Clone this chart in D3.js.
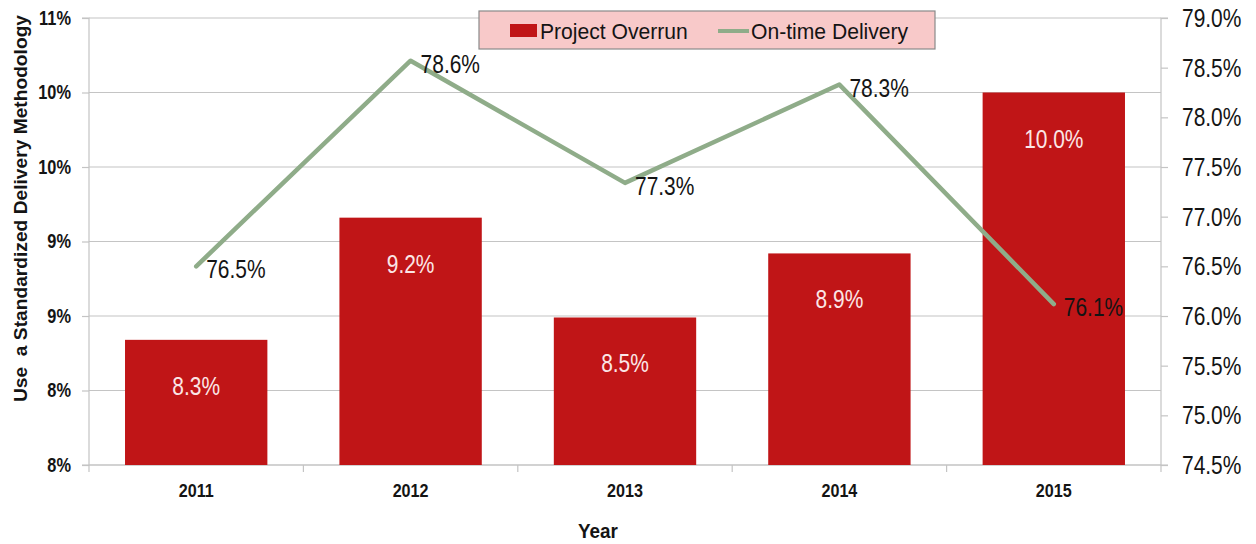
<!DOCTYPE html>
<html>
<head>
<meta charset="utf-8">
<script src="https://cdnjs.cloudflare.com/ajax/libs/d3/7.8.5/d3.min.js"></script>
<style>
  html, body { margin: 0; padding: 0; background: #fff; }
  svg { display: block; }
  text { font-family: "Liberation Sans", Arial, sans-serif; }
</style>
</head>
<body>
<svg id="chart" width="1256" height="544"></svg>
<script>
// Yearly results
const years = ["2011", "2012", "2013", "2014", "2015"];
const projectOverrun = [8.34, 9.16, 8.49, 8.92, 10.0];    // %
const onTimeDelivery = [76.5, 78.57, 77.34, 78.33, 76.12]; // %
const leftTicks = [7.5, 8.0, 8.5, 9.0, 9.5, 10.0, 10.5];
const rightTicks = [74.5, 75.0, 75.5, 76.0, 76.5, 77.0, 77.5, 78.0, 78.5, 79.0];

const svg = d3.select("#chart");
const plotL = 89, plotR = 1161, plotT = 18, plotB = 465;

const x = d3.scaleBand().domain(years).range([plotL, plotR]).paddingInner(0.336).paddingOuter(0.168);
const yL = d3.scaleLinear().domain([7.5, 10.5]).range([plotB, plotT]);
const yR = d3.scaleLinear().domain([74.5, 79.0]).range([plotB, plotT]);

const gridColor = "#c4c4c4";
const ink = "#141414";

// Narrow the glyphs horizontally while keeping the anchor point in place
function condense(sel, sx) {
  sel.each(function () {
    const t = d3.select(this);
    const tx = +t.attr("x") || 0, ty = +t.attr("y") || 0;
    t.attr("x", 0).attr("y", 0).attr("transform", `translate(${tx},${ty}) scale(${sx},1)`);
  });
}

// horizontal gridlines
svg.append("g").selectAll("line").data(leftTicks).join("line")
  .attr("x1", plotL).attr("x2", plotR)
  .attr("y1", d => yL(d)).attr("y2", d => yL(d))
  .attr("stroke", gridColor).attr("stroke-width", 1.2);

// left axis
const gL = svg.append("g").attr("transform", `translate(${plotL},0)`)
  .call(d3.axisLeft(yL).tickValues(leftTicks).tickSize(7).tickPadding(11)
    .tickFormat(d => Math.round(d + 1e-9) + "%"));
gL.select(".domain").attr("stroke", gridColor).attr("stroke-width", 1.2).attr("d", `M-7,${plotT}H0V${plotB}H-7`);
gL.selectAll(".tick line").attr("stroke", gridColor).attr("stroke-width", 1.2);
gL.selectAll(".tick text").attr("font-family", null).attr("font-size", 19.5).attr("font-weight", "bold").attr("fill", ink)
  .call(condense, 0.84);

// right axis
const gR = svg.append("g").attr("transform", `translate(${plotR},0)`)
  .call(d3.axisRight(yR).tickValues(rightTicks).tickSize(7).tickPadding(14)
    .tickFormat(d => d.toFixed(1) + "%"));
gR.select(".domain").attr("stroke", gridColor).attr("stroke-width", 1.2).attr("d", `M7,${plotT}H0V${plotB}H7`);
gR.selectAll(".tick line").attr("stroke", gridColor).attr("stroke-width", 1.2);
gR.selectAll(".tick text").attr("font-family", null).attr("font-size", 26.5).attr("fill", ink)
  .call(condense, 0.79);

// bottom axis: ticks between categories
const gB = svg.append("g").attr("transform", `translate(0,${plotB})`);
gB.append("line").attr("x1", plotL).attr("x2", plotR).attr("stroke", gridColor).attr("stroke-width", 1.2);
const bounds = years.map(y => x(y) - x.step() * x.paddingInner() / 2).concat([plotR]);
bounds[0] = plotL;
gB.selectAll(".bt").data(bounds).join("line").attr("class", "bt")
  .attr("x1", d => d).attr("x2", d => d).attr("y1", 0).attr("y2", 7)
  .attr("stroke", gridColor).attr("stroke-width", 1.2);
gB.selectAll("text").data(years).join("text")
  .attr("x", d => x(d) + x.bandwidth() / 2).attr("y", 32)
  .attr("text-anchor", "middle").attr("font-size", 19).attr("font-weight", "bold").attr("fill", ink)
  .text(d => d)
  .call(condense, 0.85);

// bars
svg.append("g").selectAll("rect").data(years).join("rect")
  .attr("x", d => x(d)).attr("width", x.bandwidth())
  .attr("y", (d, i) => yL(projectOverrun[i]))
  .attr("height", (d, i) => plotB - yL(projectOverrun[i]))
  .attr("fill", "#c01517");

// bar labels
svg.append("g").selectAll("text").data(years).join("text")
  .attr("x", d => x(d) + x.bandwidth() / 2)
  .attr("y", (d, i) => yL(projectOverrun[i]) + 55)
  .attr("text-anchor", "middle").attr("font-size", 26.5).attr("fill", "#fbe6e6")
  .text((d, i) => projectOverrun[i].toFixed(1) + "%")
  .call(condense, 0.79);

// on-time delivery line
const line = d3.line().x((d, i) => x(years[i]) + x.bandwidth() / 2).y(d => yR(d));
svg.append("path").datum(onTimeDelivery)
  .attr("d", line).attr("fill", "none")
  .attr("stroke", "#8fac89").attr("stroke-width", 4.5).attr("stroke-linejoin", "round").attr("stroke-linecap", "round");

svg.append("g").selectAll("text").data(onTimeDelivery).join("text")
  .attr("x", (d, i) => x(years[i]) + x.bandwidth() / 2 + 10)
  .attr("y", d => yR(d) + 12)
  .attr("font-size", 26.5).attr("fill", ink)
  .text(d => d.toFixed(1) + "%")
  .call(condense, 0.79);

// axis titles
svg.append("text")
  .attr("transform", "translate(27,208.5) rotate(-90)")
  .attr("text-anchor", "middle").attr("font-size", 19.2).attr("font-weight", "bold").attr("fill", ink)
  .attr("xml:space", "preserve").style("white-space", "pre")
  .text("Use  a Standardized Delivery Methodology");

svg.append("text")
  .attr("x", 598).attr("y", 538).attr("text-anchor", "middle")
  .attr("font-size", 21).attr("font-weight", "bold").attr("fill", ink)
  .text("Year")
  .call(condense, 0.9);

// legend
const lg = svg.append("g").attr("transform", "translate(479,11)");
lg.append("rect").attr("width", 456).attr("height", 38)
  .attr("fill", "#f8c9c9").attr("stroke", "#8a8a8a").attr("stroke-width", 1.2);
lg.append("rect").attr("x", 31).attr("y", 13).attr("width", 27).attr("height", 13).attr("fill", "#c01517");
lg.append("text").attr("x", 61).attr("y", 27.5).attr("font-size", 22).attr("fill", ink).text("Project Overrun")
  .call(condense, 0.96);
lg.append("line").attr("x1", 239).attr("x2", 270).attr("y1", 20).attr("y2", 20)
  .attr("stroke", "#8fac89").attr("stroke-width", 4);
lg.append("text").attr("x", 272).attr("y", 27.5).attr("font-size", 22).attr("fill", ink).text("On-time Delivery")
  .call(condense, 0.96);
</script>
</body>
</html>
